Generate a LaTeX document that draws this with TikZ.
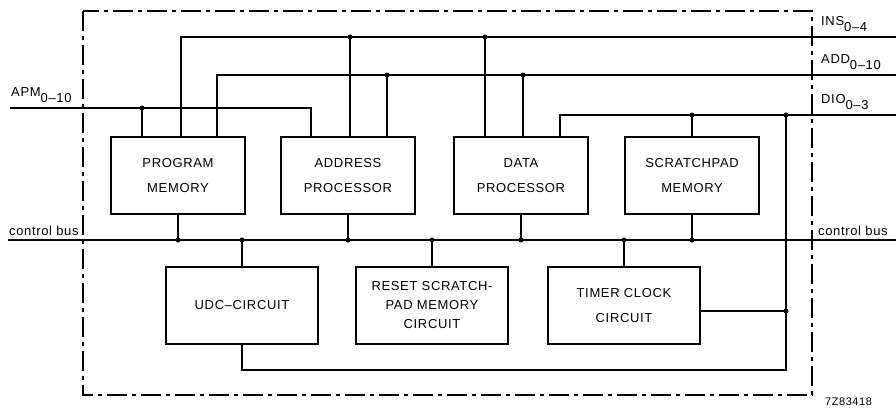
\documentclass[tikz,border=0pt]{standalone}
\usepackage{fontspec}
\setmainfont[LetterSpace=5]{Liberation Sans}
\usepackage{tikz}
\usetikzlibrary{calc}

\newcommand{\busidx}[1]{\raisebox{-6pt}{\fontsize{13}{15}\selectfont #1}}

\begin{document}
\begin{tikzpicture}[x=1pt,y=-1pt]
    \tikzstyle{block}=[draw,line width=1.8pt,minimum width=134pt,minimum height=77pt,align=center,font=\fontsize{13}{25}\selectfont]
    \tikzstyle{wide block}=[block,minimum width=152pt]
    \tikzstyle{busline}=[line width=1.5pt]
    \tikzstyle{junction}=[circle,fill,inner sep=0pt,minimum size=5pt]
    \tikzstyle{buslabel}=[inner sep=0pt,font=\fontsize{13}{15}\selectfont]
    \tikzstyle{frame}=[line width=1.1pt,dash pattern=on 20pt off 5pt on 4pt off 5pt]
    \useasboundingbox (0,0) rectangle (896,408);

    % functional blocks
    \node[block] (pm) at (178,175.5) {PROGRAM\\MEMORY};
    \node[block] (ap) at (348,175.5) {ADDRESS\\PROCESSOR};
    \node[block] (dp) at (521,175.5) {DATA\\PROCESSOR};
    \node[block] (sm) at (692,175.5) {SCRATCHPAD\\MEMORY};
    \node[wide block] (udc) at (242,305.5) {UDC--CIRCUIT};
    \node[wide block,font=\fontsize{13}{19}\selectfont] (rst) at (432,305.5) {RESET SCRATCH-\\PAD MEMORY\\CIRCUIT};
    \node[wide block] (tcc) at (624,305.5) {TIMER CLOCK\\CIRCUIT};

    % bus ends
    \coordinate (ins-w) at (181,37);
    \coordinate (ins-e) at (896,37);
    \coordinate (add-w) at (217,75);
    \coordinate (add-e) at (896,75);
    \coordinate (apm-w) at (10,108);
    \coordinate (apm-e) at (311,108);
    \coordinate (dio-w) at (560,115);
    \coordinate (dio-e) at (896,115);
    \coordinate (cb-w) at (8,240);
    \coordinate (cb-e) at (896,240);
    \coordinate (rtn) at (786,370);

    % buses
    \draw[busline] (pm.north -| ins-w) -- (ins-w) -- (ins-e);
    \draw[busline] (pm.north -| add-w) -- (add-w) -- (add-e);
    \draw[busline] (apm-w) -- (apm-e) -- (ap.north -| apm-e);
    \draw[busline] (dp.north -| dio-w) -- (dio-w) -- (dio-e);
    \draw[busline] (cb-w) -- (cb-e);

    % taps
    \foreach \blk/\xpos/\bus in {ap/350/ins, dp/485/ins, ap/387/add, dp/523/add, pm/142/apm}
      \draw[busline] (\xpos,0 |- \blk.north) -- (\xpos,0 |- \bus-w) node[junction] {};
    \draw[busline] (sm.north) -- (sm.north |- dio-w) node[junction] {};
    \foreach \blk in {pm,ap,dp,sm}
      \draw[busline] (\blk.south) -- (\blk.south |- cb-w) node[junction] {};
    \foreach \blk in {udc,rst,tcc}
      \draw[busline] (\blk.north) -- (\blk.north |- cb-w) node[junction] {};

    % timer / return line
    \draw[busline] ([yshift=-5.5pt]tcc.east) -- ([yshift=-5.5pt]tcc.east -| rtn) node[junction] {};
    \draw[busline] (rtn |- dio-w) node[junction] {} -- (rtn) -- (rtn -| udc.south) -- (udc.south);

    % chip outline
    \draw[frame] (83,11) rectangle (812,395);

    % labels
    \node[buslabel,anchor=south west] (ins) at (821,32) {INS\busidx{0--4}};
    \node[buslabel,anchor=south west] (add) at (821,70) {ADD\busidx{0--10}};
    \node[buslabel,anchor=south west] (dio) at (821,110) {DIO\busidx{0--3}};
    \node[buslabel,anchor=south west] (apm) at (11,103) {APM\busidx{0--10}};
    \node[buslabel,anchor=base west] (cb left) at (9,235) {control bus};
    \node[buslabel,anchor=base west] (cb right) at (818,235) {control bus};
    \node[buslabel,anchor=base west,font=\fontsize{11}{13}\selectfont] (code) at (825,405) {7Z83418};
\end{tikzpicture}
\end{document}
